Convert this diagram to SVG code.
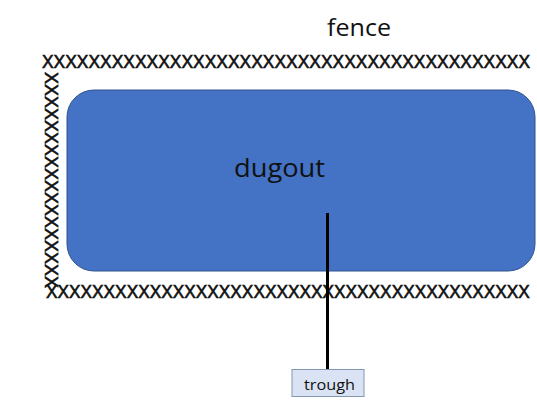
<svg xmlns="http://www.w3.org/2000/svg" width="537" height="400" viewBox="0 0 537 400">
  <style>
    .label { font-family: "Open Sans", "Liberation Sans", sans-serif; fill: #111111; }
    .fence-x { font-family: "Liberation Sans", Arial, sans-serif; font-size: 18px; fill: #111111; stroke: #111111; stroke-width: 0.6; }
  </style>
  <rect width="537" height="400" fill="#ffffff"/>

  <!-- fence made of X marks, each run set in short segments -->
  <g id="fence">
    <text class="label" x="327" y="36" font-size="24" textLength="64" lengthAdjust="spacingAndGlyphs">fence</text>
    <!-- top run -->
    <text class="fence-x" x="42" y="68" textLength="162.7" lengthAdjust="spacingAndGlyphs">XXXXXXXXXXXXXX</text>
    <text class="fence-x" x="204.7" y="68" textLength="162.7" lengthAdjust="spacingAndGlyphs">XXXXXXXXXXXXXX</text>
    <text class="fence-x" x="367.4" y="68" textLength="162.7" lengthAdjust="spacingAndGlyphs">XXXXXXXXXXXXXX</text>
    <!-- left run -->
    <text class="fence-x" transform="translate(45,72) rotate(90)" x="0" y="0" textLength="216" lengthAdjust="spacingAndGlyphs">XXXXXXXXXXXXXXXXXX</text>
    <!-- bottom run -->
    <text class="fence-x" x="46" y="298" textLength="161.3" lengthAdjust="spacingAndGlyphs">XXXXXXXXXXXXXX</text>
    <text class="fence-x" x="207.3" y="298" textLength="161.3" lengthAdjust="spacingAndGlyphs">XXXXXXXXXXXXXX</text>
    <text class="fence-x" x="368.6" y="298" textLength="161.3" lengthAdjust="spacingAndGlyphs">XXXXXXXXXXXXXX</text>
  </g>

  <!-- dugout -->
  <g id="dugout">
    <rect x="67" y="90" width="468" height="181" rx="27" ry="27" fill="#4472c4" stroke="#2f528f" stroke-width="1"/>
    <text class="label" x="234" y="177" font-size="25" textLength="91" lengthAdjust="spacingAndGlyphs">dugout</text>
  </g>

  <!-- connector -->
  <g id="connectors">
    <line x1="327.5" y1="213" x2="327.5" y2="370" stroke="#000000" stroke-width="3"/>
  </g>

  <!-- trough -->
  <g id="trough">
    <rect x="292" y="369.5" width="72" height="27" fill="#dae3f3" stroke="#8497b0" stroke-width="1"/>
    <text class="label" x="304" y="390" font-size="15" textLength="51" lengthAdjust="spacingAndGlyphs" fill="#222222">trough</text>
  </g>
</svg>
